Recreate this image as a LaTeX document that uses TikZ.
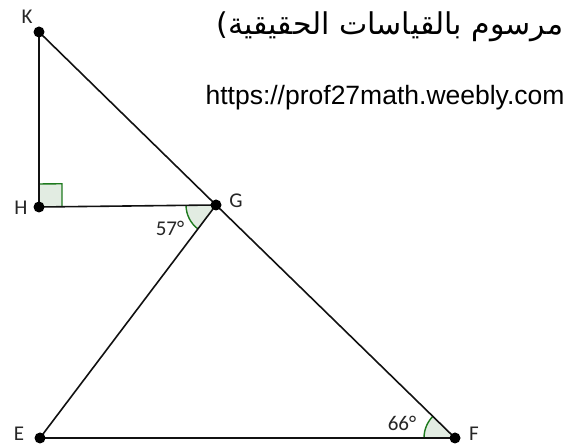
\documentclass[tikz,border=0pt]{standalone}
\usepackage{fontspec}
\setmainfont{Liberation Sans}
\newfontfamily\arabicfont[Script=Arabic]{DejaVu Sans}
\newfontfamily\lblfont{Carlito}
\TeXXeTstate=1
\usetikzlibrary{angles,quotes}
\definecolor{angline}{HTML}{1E7A1E}
\definecolor{angfill}{HTML}{E2ECE2}
\definecolor{segcol}{HTML}{111111}
\tikzset{
  seg/.style={draw=segcol, line width=1.6pt},
  pt/.style={circle, fill=black, inner sep=0pt, minimum size=11pt},
  lbl/.style={font=\lblfont\fontsize{21}{24}\selectfont, text=black!85, inner sep=0pt},
  angmark/.style={draw=angline, line width=1.4pt, fill=angfill},
}
\begin{document}
\begin{tikzpicture}[x=1pt,y=1pt]
\useasboundingbox (0,0) rectangle (578,446);
\coordinate (K) at (39,414);
\coordinate (H) at (39,239);
\coordinate (G) at (216,241);
\coordinate (E) at (40,8);
\coordinate (F) at (455,8);
% angle marks
\pic[angmark, angle radius=23pt] {right angle = G--H--K};
\pic[angmark, angle radius=30pt] {angle = H--G--E};
\pic[angmark, angle radius=31pt] {angle = G--F--E};
% segments
\draw[seg] (K) -- (H);
\draw[seg] (H) -- (G);
\draw[seg] (K) -- (G);
\draw[seg] (G) -- (F);
\draw[seg] (G) -- (E);
\draw[seg] (E) -- (F);
% points
\node[pt] (pK) at (K) {};
\node[pt] (pH) at (H) {};
\node[pt] (pG) at (G) {};
\node[pt] (pE) at (E) {};
\node[pt] (pF) at (F) {};
% labels
\node[lbl] (lK) at (27,429) {K};
\node[lbl] (lH) at (21,238) {H};
\node[lbl] (lG) at (236,245) {G};
\node[lbl] (lE) at (19,12) {E};
\node[lbl] (lF) at (474,12) {F};
\node[lbl] (a57) at (170,218) {57°};
\node[lbl] (a66) at (402,23) {66°};
% texts
\node[inner sep=0pt, font=\fontsize{30}{34}\selectfont] (title) at (390,419)
  {\arabicfont )\beginR مرسوم بالقياسات الحقيقية\endR};
\node[inner sep=0pt, font=\fontsize{26.5}{30}\selectfont] (url) at (385,348)
  {https://prof27math.weebly.com};
\end{tikzpicture}
\end{document}
